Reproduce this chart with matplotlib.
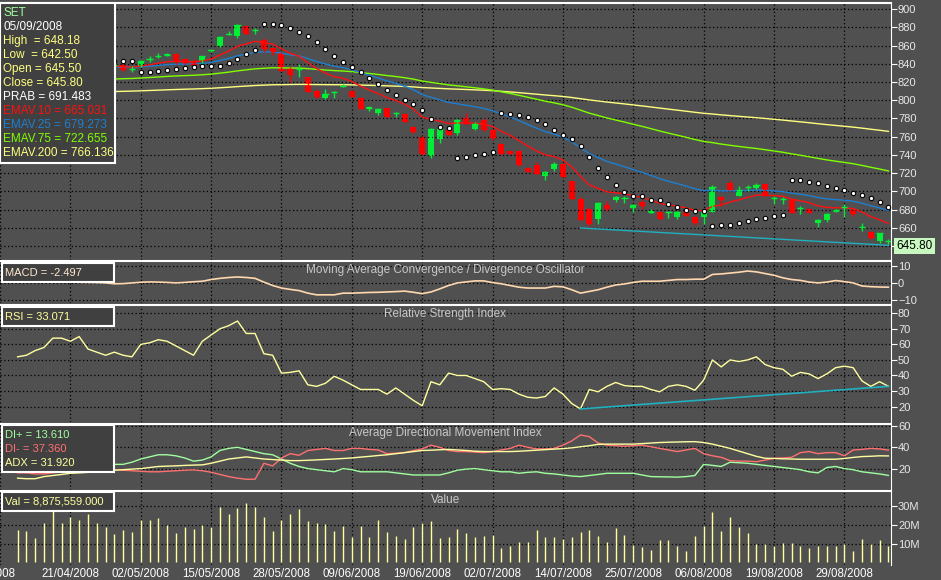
import numpy as np
import pandas as pd
import matplotlib
matplotlib.use("Agg")
import matplotlib.pyplot as plt
from matplotlib.patches import Rectangle

plt.rcParams['font.family'] = ['Liberation Sans', 'DejaVu Sans']

# ---------------- data ----------------
opens = [832,835,833,838,836,840,837,841,839,836,838,836,839,834,838,845,848,850,851,845,
         843,843,854,859,872,870,881,877,866,857,852,835,834,825,810,803,809,815,810,803,
         792,786,791,786,785,771,760,739,757,767,764,781,769,778,767,752,744,744,726,729,
         717,725,730,711,692,681,670,685,691,693,682,688,678,678,677,672,678,672,672,678,
         694,709,695,705,704,708,693,692,691,682,681,665,669,678,683,680,661,656,646,645.5]
closes = [835,833,838,836,840,837,841,839,836,838,836,839,834,834,843,845,848,850,844,842,
          840,848,855,869,873,883,874,877,857,854,833,829,834,810,805,807,809,816,805,792,
          792,790,783,786,777,766,742,768,768,763,778,775,774,768,760,742,742,730,723,720,
          721,730,717,693,670,665,687,682,694,693,685,685,678,671,677,678,674,667,677,705,
          692,703,702,705,707,696,693,692,677,682,678,669,675,680,683,676,661,650,654,645.8]
highs = [838,837,840,841,843,842,844,843,841,840,840,841,841,837,844,848,852,852,852,846,
         845,849,856,870,876,884,883,879,868,858,853,836,840,826,812,812,810,818,811,804,
         794,791,792,787,786,772,761,770,770,769,779,786,776,781,768,753,745,746,727,732,
         722,732,731,712,694,682,689,690,695,695,686,691,681,679,679,679,679,673,678,707,
         695,713,706,707,709,709,695,694,692,684,682,670,676,681,686,681,665,657,655,648.18]
lows = [830,830,831,834,834,835,835,836,833,833,834,834,832,831,836,842,846,848,840,840,
        837,838,853,858,871,868,873,873,853,850,832,820,826,809,802,801,803,814,804,790,
        788,784,782,782,776,764,740,737,753,762,762,774,767,766,756,741,741,728,721,719,
        713,723,716,692,669,662,664,679,689,687,677,681,676,670,671,670,673,663,664,677,
        684,702,695,700,703,695,686,686,676,675,677,661,667,678,672,673,657,648,643,642.5]

macd = [0.6,0.6,0.6,0.6,0.6,0.6,0.5,0.4,0.3,0.2,0,-0.5,-0.4,0,0.4,0.6,0.5,0.3,0,0.3,
        0.7,1,2,2.7,3.2,3.5,3.2,2.7,0.5,-1.5,-3,-3.8,-4.5,-6,-7,-7,-7,-6,-6,-5.8,
        -5.6,-5.5,-5.3,-5.1,-4.8,-5.5,-6.3,-5.3,-3.5,-1.5,0,0.6,1.2,1.2,0.2,-0.5,-1.5,-2.5,-3,-3,
        -3,-2,-2.3,-4,-6,-5,-4,-2.5,-1.2,-0.6,0.3,1,1,1,1.5,2,2,2.2,2.2,5,
        5.3,5.8,6.3,7,6.5,5.5,4.5,3,2,1.5,0.5,0,0.5,1.4,0.8,0,-1.8,-2.2,-2.4,-2.497]
rsi = [52,53,56,58,64,64,62,65,57,55,53,55,53,52,60,61,63,62,59,56,
       53,62,66,70,72,75,67,67,54,53,41.5,42,43,34,33,35,39.5,37,34,31,
       31,31,28,32,28,24,20.5,36,34,41.5,40,40,38,36,31,31.5,31,28,26,25.5,
       26.5,32,28,22,18.5,31,29.5,33,35.5,33.5,33,33,31,29.5,33,34,33,30.5,37,50,
       45.5,50,49,50,52,47,45,44,39.5,42,41,38,41,45,46,45,36.5,33,36,33.071]
adx = [11,10.5,10.5,12.5,13.5,14.5,15.6,16,16.5,17,18,18.5,19,19.5,20,21,22,22.3,22.6,23,
       23.3,23.5,25,27,29,30,31,30,29,28.5,28,27.5,27.5,27.8,28.2,28.6,29,29.5,30,30.8,
       31.5,32.3,33,34,35,36,37,37.3,37.7,38,37.5,37,36.3,36,36,36,36,36.3,36.8,37.3,
       37.8,38.3,38.8,39.5,40.5,41.5,42.8,43,43,43,43,43.5,44,44.5,44.8,45,45.2,45.3,44.5,43,
       41,39,36.5,34,31.5,29.7,29.5,29.2,29,28.8,28.8,28.8,28.8,28.8,29.5,30.5,31.3,31.6,32,31.92]
di_plus = [18,19,20,21,22,21,22,23,22,23,24,24,24,26,29,31,33,33,32,30,
           27,28,31,37,39,40,38,36,34,33,29,25,22,20,19,18,17,20,19,17,
           17,17,17,16,15,14,14,14,14,16,18.5,19.5,20,19,18,17,17,15.6,16.5,17,
           15.6,15,14,13,12.5,13.5,14.5,15.6,15.6,15.6,15.6,14,12.5,12.3,12.2,12,12.5,13.5,24,23,
           22,26,25.5,25,24,23,22,21,20,19,17,16,21,22,20,19,17,16,15,13.61]
di_minus = [16,16,15,15,16,17,17,18,18,19,19,19,18.5,18,17.5,17,17,17.5,18,18.5,
            18.8,18,16.6,14.5,12.5,11,10,10,25,22.5,30,34,32.5,37,38,39,37,37,39,39,
            38,37.5,34,34.5,35,37,38.5,42,40,37,36,36,35.5,35,36,37.5,39,42,40,38.5,
            38.5,39,42,46,51.6,50,44,42,41.5,41,41.5,42,40.5,39,37.5,36,37.5,39,34,32,
            30.6,27.5,27,27,26.5,28,29.7,30,30.6,35,36,34,35,35,32,37.5,38,39,38.5,37.36]
volume_m = [17.4,16.8,13,20.9,27.5,20.9,24.4,22.6,25.6,21.2,18.6,15.3,17.4,16,22.6,22.6,23.5,20,15.6,18.8,
            17.7,20,18.8,29.6,25.8,28.8,31.4,29.3,24.4,16.8,22.3,25.8,28.2,22.1,21.2,20.5,16.5,19.5,13.3,19.1,
            13.3,22.6,16.3,14.2,12.5,18.6,21.2,21.8,13,13.5,17.7,15.6,13.3,14.2,14.7,7.4,8.9,10.7,10.7,17.4,
            13.5,13.3,12.5,13.3,16,17.4,14.2,10.9,18.2,14.7,9.5,8.2,6.8,11.8,12.1,8.9,5.8,14.2,19.5,27,
            16.5,23.9,18.6,15.6,10,10,8.6,10.4,10.4,8.9,7.7,8.9,8.9,8.9,10,6.3,12.6,9.8,12.1,8.88]

date_ticks = [-2, 6, 14, 22, 30, 38, 46, 54, 62, 70, 78, 86, 94]
date_labels = ["/2008", "21/04/2008", "02/05/2008", "15/05/2008", "28/05/2008", "09/06/2008",
               "19/06/2008", "02/07/2008", "14/07/2008", "25/07/2008", "06/08/2008",
               "19/08/2008", "29/08/2008"]
price_ticks = list(range(640, 901, 20))
price_ticklabels = [""] + [str(v) for v in price_ticks[1:]]

# seeds for the long averages (history before the window)
ema75_seed = 818
ema200_seed = 806
# trend lines drawn by the user on the chart
price_trend = ([64, 99], [660, 641])
rsi_trend = ([64, 99], [18.5, 33])

# ---------------- derived ----------------
n = len(closes)
x = np.arange(n)
o = np.array(opens); c = np.array(closes); h = np.array(highs); l = np.array(lows)
cs = pd.Series(c)
ema10 = cs.ewm(span=10, adjust=False).mean()
ema25 = cs.ewm(span=25, adjust=False).mean()
ema75 = pd.concat([pd.Series([ema75_seed] * 30), cs]).ewm(span=75, adjust=False).mean().iloc[30:]
ema200 = pd.concat([pd.Series([ema200_seed] * 60), cs]).ewm(span=200, adjust=False).mean().iloc[60:]


def psar(h, l, step=0.02, mx=0.2):
    sar = np.zeros(len(h))
    up = True
    af = step
    ep = h[0]
    sar[0] = l[0]
    for i in range(1, len(h)):
        s = sar[i - 1] + af * (ep - sar[i - 1])
        if up:
            s = min(s, l[i - 1], l[i - 2] if i > 1 else l[i - 1])
            if l[i] < s:
                up = False; s = ep; ep = l[i]; af = step
            elif h[i] > ep:
                ep = h[i]; af = min(af + step, mx)
        else:
            s = max(s, h[i - 1], h[i - 2] if i > 1 else h[i - 1])
            if h[i] > s:
                up = True; s = ep; ep = h[i]; af = step
            elif l[i] < ep:
                ep = l[i]; af = min(af + step, mx)
        sar[i] = s
    return sar


sar = psar(h, l)

# ---------------- figure ----------------
BG = "#505050"
W, H = 941, 580
fig = plt.figure(figsize=(W / 100, H / 100), dpi=100)
fig.patch.set_facecolor(BG)
XR = 891


def panel(top, bottom):
    ax = fig.add_axes([0, 1 - bottom / H, XR / W, (bottom - top) / H])
    ax.set_facecolor(BG)
    for s in ax.spines.values():
        s.set_visible(False)
    ax.spines['right'].set_visible(True)
    ax.spines['right'].set_color("white")
    ax.spines['top'].set_visible(True)
    ax.spines['top'].set_color("white")
    ax.spines['top'].set_linewidth(1.5)
    ax.yaxis.tick_right()
    ax.tick_params(axis='y', colors="white", labelsize=8, length=4, pad=1, labelcolor="#e8e8e8")
    ax.set_xlim(-0.9, 99.3)
    ax.set_xticks(date_ticks)
    ax.tick_params(axis='x', length=0, labelbottom=False)
    ax.grid(True, color="black", linestyle=(0, (1, 2)), linewidth=0.9)
    return ax


def title(ax, t):
    ax.text(0.5, 1 - 3 / (ax.bbox.height), t, transform=ax.transAxes, ha="center", va="top",
            color="#c8c8c8", fontsize=8.5)


def box(x0, y0, x1, y1, lines, fs=8.5):
    # box in figure pixels, lines = [(text, colour)]
    fig.patches.append(Rectangle((x0 / W, 1 - y1 / H), (x1 - x0) / W, (y1 - y0) / H,
                                 transform=fig.transFigure, facecolor="#404040",
                                 edgecolor="white", linewidth=1.5, zorder=10))
    for k, (t, col) in enumerate(lines):
        fig.text((x0 + 3) / W, 1 - (y0 + 10 + 14 * k) / H, t, color=col, fontsize=fs,
                 va="center", zorder=11)


# price panel
ax = panel(3, 260)
ax.set_ylim(624.9, 906.6)
ax.set_yticks(price_ticks)
ax.set_yticklabels(price_ticklabels)
ax.plot(x, ema200, color="#ffff80", lw=1)
ax.plot(x, ema75, color="#80ff00", lw=1)
ax.plot(x, ema25, color="#1e7fd0", lw=1)
ax.plot(x, ema10, color="#ff1010", lw=1)
ax.plot(*price_trend, color="#20b0c0", lw=1)
upc = c >= o
colors = np.where(upc, "#00ee33", "#ff0000")
ax.vlines(x, l, h, colors=colors, lw=1)
ax.bar(x, np.maximum(np.abs(c - o), 0.3), bottom=np.minimum(o, c), width=0.68, color=colors)
ax.hlines(c, x - 0.35, x + 0.35, colors=colors, lw=1)
ax.scatter(x, sar, s=10, facecolor="white", edgecolor="black", linewidth=0.8, zorder=5)
fig.text(896 / W, 1 - 246 / H, "645.80", fontsize=8.5, color="black", va="center",
         bbox=dict(boxstyle="square,pad=0.2", fc="#c8f8c0", ec="none"))

# MACD
ax2 = panel(261, 303)
ax2.set_ylim(-11.8, 12.9)
ax2.set_yticks([-10, 0, 10])
ax2.plot(x, macd, color="#ffd8b0", lw=1.2)
title(ax2, "Moving Average Convergence / Divergence Oscillator")

# RSI
ax3 = panel(305, 422)
ax3.set_ylim(10.1, 85.3)
ax3.set_yticks(range(20, 81, 10))
ax3.plot(x, rsi, color="#ffffa0", lw=1)
ax3.plot(*rsi_trend, color="#20b0c0", lw=1.2)
title(ax3, "Relative Strength Index")

# ADX
ax4 = panel(424, 490)
ax4.set_ylim(-0.1, 61.9)
ax4.set_yticks([20, 40, 60])
ax4.plot(x, di_plus, color="#a0ffa0", lw=1)
ax4.plot(x, di_minus, color="#ff7070", lw=1)
ax4.plot(x, adx, color="#ffffa0", lw=1)
title(ax4, "Average Directional Movement Index")

# Value
ax5 = panel(491, 565)
ax5.set_ylim(-1.4, 38)
ax5.set_yticks([10, 20, 30])
ax5.set_yticklabels(["10M", "20M", "30M"])
ax5.vlines(x, 0, volume_m, colors="#ffffa0", lw=1)
title(ax5, "Value")
ax5.tick_params(axis='x', labelbottom=True, colors="white", labelsize=8.3, pad=2)
ax5.set_xticklabels(date_labels, color="white")

# legend boxes
box(0, 3, 115, 163, [("SET", "#a0ffa0"), ("05/09/2008", "white"),
                     ("High  = 648.18", "#ffff80"), ("Low  = 642.50", "#ffff80"),
                     ("Open = 645.50", "#ffff80"), ("Close = 645.80", "#ffff80"),
                     ("PRAB = 691.483", "white"), ("EMAV.10 = 665.031", "#ff1010"),
                     ("EMAV.25 = 679.273", "#1e7fd0"), ("EMAV.75 = 722.655", "#80ff00"),
                     ("EMAV.200 = 766.136", "#ffff80")])
box(2, 263, 114, 282, [("MACD = -2.497", "#ffe8d0")], fs=8)
box(2, 307, 114, 326, [("RSI = 33.071", "#ffffa0")], fs=8)
box(2, 425, 114, 472, [("DI+ = 13.610", "#a0ffa0"), ("DI- = 37.360", "#ff7070"),
                       ("ADX = 31.920", "#ffffa0")], fs=8)
box(2, 492, 114, 511, [("Val = 8,875,559.000", "#ffffa0")], fs=8)

fig.savefig("out.png", dpi=100, facecolor=BG)
